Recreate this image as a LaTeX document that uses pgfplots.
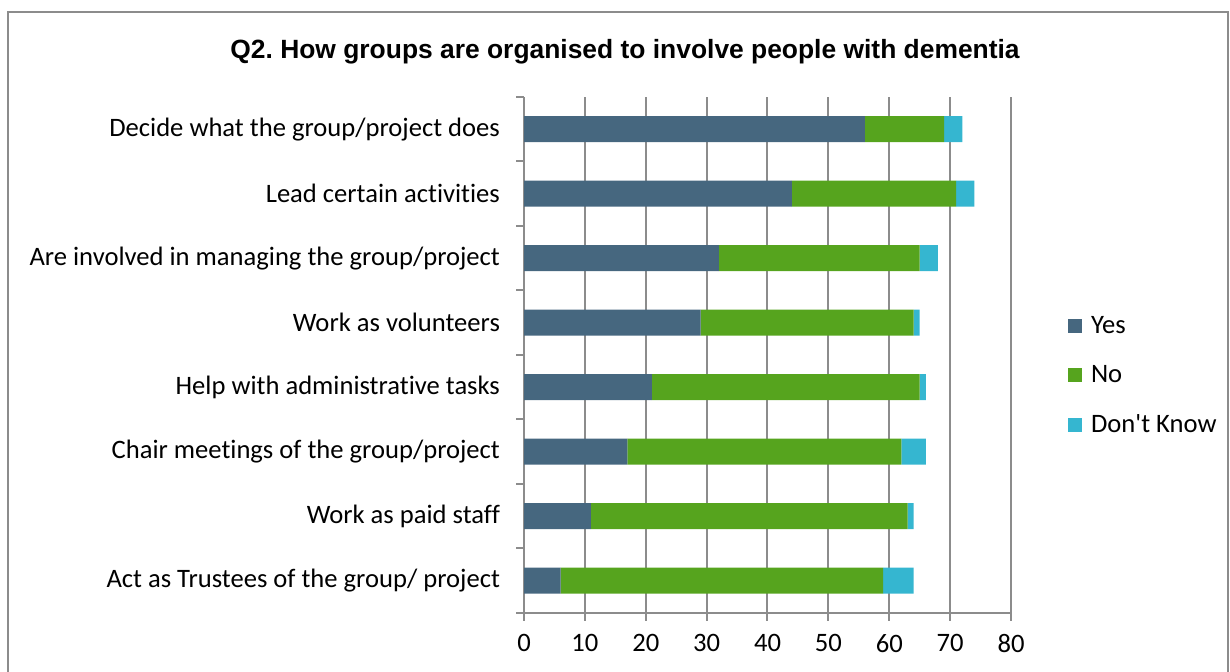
\documentclass[border=0pt]{standalone}
\usepackage{fontspec}
\setmainfont{Carlito}[Ligatures={TeXOff,NoCommon,NoContextual}]
\newfontfamily\arialfont{Liberation Sans}
\usepackage{pgfplots}
\pgfplotsset{compat=1.18}

\definecolor{cyes}{HTML}{46677F}
\definecolor{cno}{HTML}{56A41E}
\definecolor{cdk}{HTML}{35B6D0}
\definecolor{gridgray}{HTML}{8C8C8C}

\begin{document}
\frenchspacing
\begin{tikzpicture}
\path[use as bounding box] (0,0) rectangle (615pt,336pt);
\draw[gridgray, line width=0.7pt] (4pt,0) -- (4pt,330pt) -- (614pt,330pt) -- (614pt,0);

\node[font=\arialfont\bfseries\fontsize{13.2}{16}\selectfont] at (312.5pt,310pt)
  {Q2. How groups are organised to involve people with dementia};

\begin{axis}[
    at={(262pt,29.5pt)}, anchor=south west,
    scale only axis,
    width=243.5pt, height=258pt,
    xbar stacked, bar width=13pt,
    xmin=0, xmax=80, ymin=0, ymax=8,
    xtick={0,10,...,80},
    ytick={0,...,8}, yticklabels={},
    extra y ticks={0.5,1.5,...,7.5},
    extra y tick labels={Act as Trustees of the group/ project, Work as paid staff,
      Chair meetings of the group/project, Help with administrative tasks,
      Work as volunteers, Are involved in managing the group/project,
      Lead certain activities, Decide what the group/project does},
    extra y tick style={major tick length=0pt, yticklabel style={xshift=-8.5pt}},
    axis lines=left,
    axis line style={-, gridgray, line width=1pt},
    tick style={gridgray, line width=1pt},
    tick align=outside, major tick length=4pt,
    xmajorgrids, grid style={gridgray, line width=1pt},
    /pgf/number format/assume math mode=true,
    tick label style={font=\fontsize{13.3}{16}\selectfont, black},
    xticklabel style={yshift=-3pt},
    legend style={at={(1.104,0.46)}, anchor=west, draw=none, fill=none,
      row sep=10.5pt, font=\fontsize{13.3}{16}\selectfont,
      nodes={inner xsep=4.5pt}},
    legend cell align=left,
    legend image code/.code={\fill[#1] (0pt,-3.5pt) rectangle (7pt,3.5pt);},
]
\addplot[fill=cyes, draw=none] coordinates {(56,7.5) (44,6.5) (32,5.5) (29,4.5) (21,3.5) (17,2.5) (11,1.5) (6,0.5)};
\addplot[fill=cno, draw=none] coordinates {(13,7.5) (27,6.5) (33,5.5) (35,4.5) (44,3.5) (45,2.5) (52,1.5) (53,0.5)};
\addplot[fill=cdk, draw=none] coordinates {(3,7.5) (3,6.5) (3,5.5) (1,4.5) (1,3.5) (4,2.5) (1,1.5) (5,0.5)};
\legend{Yes, No, Don't Know}
\end{axis}
\end{tikzpicture}
\end{document}
